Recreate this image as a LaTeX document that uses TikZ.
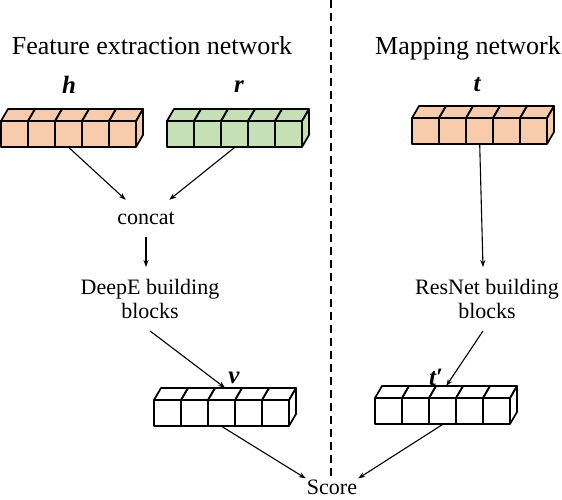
\documentclass[tikz,border=0pt]{standalone}
\usepackage{fontspec}
\setmainfont{Liberation Serif}
\usetikzlibrary{arrows.meta}
\definecolor{boxorange}{RGB}{248,203,173}
\definecolor{boxgreen}{RGB}{197,224,180}
\newcommand\vecbox[4]{%
  \begin{scope}[shift={(#2,#3)}]
    \fill[#4] (0,0) -- (7,-12) -- (142,-12) -- (142,14) -- (135,26) -- (0,26) -- cycle;
    \foreach \i in {0,...,4} {
      \draw[cellline] (\i*27,0) rectangle ++(27,26);
      \draw[cellline] (\i*27,0) -- ++(7,-12) -- ++(27,0) -- ++(-7,12);
    }
    \draw[cellline] (135,0) -- (142,-12) -- (142,14) -- (135,26);
    \node[inner sep=0pt,minimum width=142pt,minimum height=38pt,anchor=north west] (#1) at (0,-12) {};
    \node[inner sep=0pt,minimum width=135pt,minimum height=26pt,anchor=north west] (#1f) at (0,0) {};
  \end{scope}}
\begin{document}
\begin{tikzpicture}[x=1pt,y=-1pt,
  cellline/.style={line width=1.7pt, line join=round},
  conn/.style={line width=1.1pt,-{Stealth[length=7pt,width=5pt]}},
  title/.style={font=\fontsize{26}{30}\selectfont, anchor=base},
  lbl/.style={font=\fontsize{22}{24}\selectfont},
  var/.style={font=\fontsize{25}{27}\selectfont\bfseries\itshape, anchor=base}]
\useasboundingbox (0,0) rectangle (562,500);

\node[title] (ttl1) at (152,55) {Feature extraction network};
\node[title] (ttl2) at (468,55) {Mapping network};

\coordinate (dtop) at (331,0);
\coordinate (dbot) at (331,478);
\draw[line width=1.5pt, dash pattern=on 8pt off 5pt] (dtop) -- (dbot);

\vecbox{h}{1}{121}{boxorange}
\vecbox{r}{167}{121}{boxgreen}
\vecbox{t}{412}{118}{boxorange}
\vecbox{v}{154}{400}{white}
\vecbox{tp}{375}{398}{white}

\node[var] (lh) at (69,94) {h};
\node[var] (lr) at (239,93) {r};
\node[var] (lt) at (477,92) {t};
\node[var] (lv) at (234,383) {v};
\node[var] (ltp) at (436,385) {t′};

\node[lbl, minimum height=37pt, minimum width=60pt, inner sep=0pt] (concat) at (146,218.5) {concat};
\node[lbl, align=center, inner ysep=12pt] (deepe) at (150,299) {DeepE building\\blocks};
\node[lbl, align=center, inner ysep=12pt] (resnet) at (487,299) {ResNet building\\blocks};
\node[lbl, inner sep=1pt] (score) at (332,487) {Score};

\draw[conn] (hf.south) -- (concat);
\draw[conn] (rf.south) -- (concat);
\draw[conn] (concat) -- (concat |- deepe.north);
\draw[conn] (tf.south) -- ([xshift=-4pt]resnet.north);
\draw[conn] (deepe.south) -- (v.north);
\draw[conn] ([xshift=-4pt]resnet.south) -- (tp.north);
\draw[conn] (vf.south) -- (score.north west);
\draw[conn] (tpf.south) -- (score.north east);
\end{tikzpicture}
\end{document}
